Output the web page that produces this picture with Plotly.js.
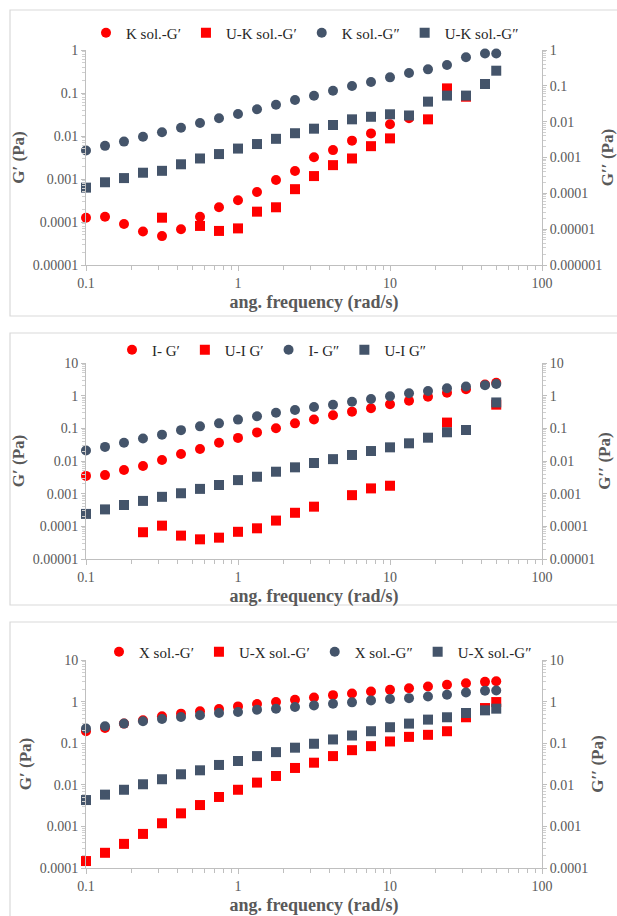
<!DOCTYPE html>
<html><head><meta charset="utf-8">
<script src="https://cdn.plot.ly/plotly-3.0.1.min.js"></script>
<style>html,body{margin:0;padding:0;background:#fff}#chart{width:617px;height:916px}</style>
</head><body><div id="chart"></div>
<script>
// angular frequency (rad/s)
const freq = [0.1,0.1334,0.1778,0.2371,0.3162,0.4217,0.5623,0.7499,1,1.334,1.778,2.371,3.162,4.217,5.623,7.499,10,13.34,17.78,23.71,31.62,42.17,50];

// Panel 1: K sol.
const kSolG1  = [0.000126,0.000133,0.00009,0.00006,0.000047,0.000068,0.000133,0.00022,0.00032,0.0005,0.00095,0.00153,0.0032,0.0047,0.0078,0.0115,0.0187,0.0258,null,null,null,null,null];
const ukSolG1 = [null,null,null,null,0.000126,null,0.000081,0.000062,0.000071,0.000174,0.00022,0.00058,0.00117,0.0021,0.0030,0.0058,0.0088,null,0.0244,0.128,0.082,null,null];
const kSolG2  = [0.0046,0.0059,0.0074,0.0096,0.0122,0.0156,0.020,0.0258,0.0325,0.0417,0.0535,0.0687,0.0867,0.113,0.146,0.18,0.231,0.292,0.355,0.448,0.676,0.83,0.83];
const ukSolG2 = [0.00063,0.00084,0.00105,0.0014,0.00155,0.0022,0.003,0.0038,0.0051,0.0065,0.0086,0.0116,0.0148,0.018,0.0244,0.028,0.032,0.030,0.063,0.087,0.087,0.162,0.33];

// Panel 2: I
const iG1  = [0.0035,0.0037,0.0053,0.007,0.0107,0.0164,0.0233,0.036,0.051,0.075,0.1,0.142,0.186,0.25,0.324,0.41,0.545,0.70,0.93,1.23,1.57,2.2,2.5];
const uiG1 = [null,null,null,0.000066,0.000105,0.000052,0.00004,0.000045,0.000068,0.000087,0.00015,0.00026,0.0004,null,0.0009,0.00145,0.00175,null,null,0.15,null,null,0.53];
const iG2  = [0.021,0.027,0.036,0.049,0.064,0.088,0.115,0.142,0.185,0.233,0.30,0.364,0.45,0.53,0.655,0.79,0.96,1.18,1.39,1.68,1.9,2.1,2.28];
const uiG2 = [0.00024,0.00033,0.00045,0.0006,0.0008,0.00103,0.0014,0.00184,0.0026,0.0033,0.0047,0.0064,0.0087,0.0114,0.0153,0.0202,0.0262,0.0348,0.0517,0.0757,0.089,null,0.62];

// Panel 3: X sol.
const xSolG1  = [0.194,0.233,0.296,0.356,0.443,0.513,0.583,0.664,0.767,0.873,0.975,1.11,1.26,1.43,1.57,1.75,1.92,2.10,2.31,2.53,2.77,2.98,3.09];
const uxSolG1 = [0.000147,0.000232,0.00038,0.00066,0.00119,0.00206,0.00326,0.0051,0.0076,0.0113,0.0163,0.0254,0.034,0.049,0.068,0.085,0.11,0.142,0.159,0.194,0.42,0.70,0.975];
const xSolG2  = [0.225,0.256,0.296,0.336,0.383,0.427,0.468,0.532,0.562,0.64,0.676,0.74,0.81,0.89,0.96,1.07,1.15,1.21,1.33,1.46,1.66,1.82,1.85];
const uxSolG2 = [0.0043,0.0058,0.0076,0.0103,0.0136,0.0179,0.0223,0.030,0.0373,0.049,0.061,0.078,0.097,0.123,0.153,0.194,0.242,0.296,0.369,0.42,0.532,0.616,0.676];

// legend names
const names1 = ['K sol.-G′','U-K sol.-G′','K sol.-G″','U-K sol.-G″'];
const names2 = ['I- G′','U-I G′','I- G″','U-I G″'];
const names3 = ['X sol.-G′','U-X sol.-G′','X sol.-G″','U-X sol.-G″'];

// tick labels
const xTickVals = [0.1,1,10,100];
const xTickText = ['0.1','1','10','100'];
const yTickVals = [0.000001,0.00001,0.0001,0.001,0.01,0.1,1,10];
const yTickText = ['0.000001','0.00001','0.0001','0.001','0.01','0.1','1','10'];

const RED = '#ff0000', DARK = '#44546a';
const SERIF = 'Liberation Serif, Times New Roman, serif';
const W = 617, H = 916;

function minorVals(d0, d1){
  const out = [];
  for (let d = d0; d < d1; d++) for (let k = 2; k <= 9; k++) out.push(k * Math.pow(10, d));
  return out;
}

const traces = [];
function addPanel(n, names, a, b, c, d){
  const xa = n === 1 ? 'x' : 'x' + n, ya = n === 1 ? 'y' : 'y' + n;
  const lg = n === 1 ? 'legend' : 'legend' + n;
  const series = [[a, RED, 'circle'], [b, RED, 'square'], [c, DARK, 'circle'], [d, DARK, 'square']];
  series.forEach((s, i) => traces.push({
    x: freq, y: s[0], name: names[i], type: 'scatter', mode: 'markers',
    xaxis: xa, yaxis: ya, legend: lg, cliponaxis: false,
    marker: {color: s[1], symbol: s[2], size: 10}
  }));
  // hidden (legend-only, no legend entry) reference so the secondary G″ axis is drawn
  traces.push({x: freq, y: c, type: 'scatter', mode: 'markers', xaxis: xa, yaxis: 'y' + (n + 3),
    visible: 'legendonly', showlegend: false, hoverinfo: 'skip', name: names[2]});
}
addPanel(1, names1, kSolG1, ukSolG1, kSolG2, ukSolG2);
addPanel(2, names2, iG1, uiG1, iG2, uiG2);
addPanel(3, names3, xSolG1, uxSolG1, xSolG2, uxSolG2);

const tickFont = {family: SERIF, size: 14, color: '#595959'};
const titleFont = {family: SERIF, size: 18, color: '#595959'};
const yTitleFont = {family: SERIF, size: 17, color: '#595959'};
const X0 = 86 / W, X1 = 542 / W;

function xAxis(anchor){
  return {type: 'log', range: [-1, 2], domain: [X0, X1], anchor: anchor,
    tickmode: 'array', tickvals: xTickVals, ticktext: xTickText,
    ticks: 'outside', ticklen: 5, tickcolor: '#bfbfbf',
    showline: true, linecolor: '#bfbfbf', linewidth: 1, showgrid: false, zeroline: false,
    tickfont: tickFont,
    minor: {tickmode: 'array', tickvals: minorVals(-1, 2), ticks: 'outside', ticklen: 4, tickcolor: '#bfbfbf', showgrid: false},
    title: {text: '<b>ang. frequency (rad/s)</b>', font: titleFont, standoff: 5}};
}
function yAxis(anchor, r, domTop, domBot, side, overlay, title){
  const ax = {type: 'log', range: r, anchor: anchor, side: side,
    tickmode: 'array', tickvals: yTickVals, ticktext: yTickText,
    ticks: 'outside', ticklen: 4, tickcolor: '#bfbfbf',
    showline: true, linecolor: '#bfbfbf', linewidth: 1, showgrid: false, zeroline: false,
    tickfont: tickFont,
    minor: {tickmode: 'array', tickvals: minorVals(r[0], r[1]), ticks: 'outside', ticklen: 3, tickcolor: '#d0d0d0', showgrid: false},
    title: {text: title, font: yTitleFont, standoff: 3}};
  if (overlay) { ax.overlaying = overlay; }
  else { ax.domain = [1 - domBot / H, 1 - domTop / H]; }
  return ax;
}

function legend(cx, cy){
  return {orientation: 'h', x: cx / W, xanchor: 'center', y: 1 - cy / H, yanchor: 'middle',
    font: {family: SERIF, size: 15, color: '#262626'}, bgcolor: 'rgba(0,0,0,0)',
    itemwidth: 30, tracegroupgap: 0};
}

function frame(top, bot){
  return {type: 'rect', xref: 'paper', yref: 'paper', x0: 10 / W, x1: 1.05,
    y0: 1 - bot / H, y1: 1 - top / H, line: {color: '#d9d9d9', width: 1.2},
    fillcolor: 'rgba(0,0,0,0)', layer: 'below'};
}

const layout = {
  width: W, height: H, margin: {l: 0, r: 0, t: 0, b: 0},
  paper_bgcolor: '#ffffff', plot_bgcolor: 'rgba(0,0,0,0)',
  showlegend: true,
  xaxis: xAxis('y'), xaxis2: xAxis('y2'), xaxis3: xAxis('y3'),
  yaxis:  yAxis('x',  [-5, 0], 50, 265, 'left', null, '<b>G′ (Pa)</b>'),
  yaxis2: yAxis('x2', [-5, 1], 363, 559, 'left', null, '<b>G′ (Pa)</b>'),
  yaxis3: yAxis('x3', [-4, 1], 660, 868, 'left', null, '<b>G′ (Pa)</b>'),
  yaxis4: yAxis('x',  [-6, 0], 0, 0, 'right', 'y', '<b>G′′ (Pa)</b>'),
  yaxis5: yAxis('x2', [-5, 1], 0, 0, 'right', 'y2', '<b>G′′ (Pa)</b>'),
  yaxis6: yAxis('x3', [-4, 1], 0, 0, 'right', 'y3', '<b>G′′ (Pa)</b>'),
  legend: legend(305, 33), legend2: legend(272, 350), legend3: legend(318, 652),
  shapes: [frame(10, 316), frame(333, 605), frame(622, 930)]
};

Plotly.newPlot('chart', traces, layout, {displayModeBar: false, staticPlot: true});
</script>
</body></html>
